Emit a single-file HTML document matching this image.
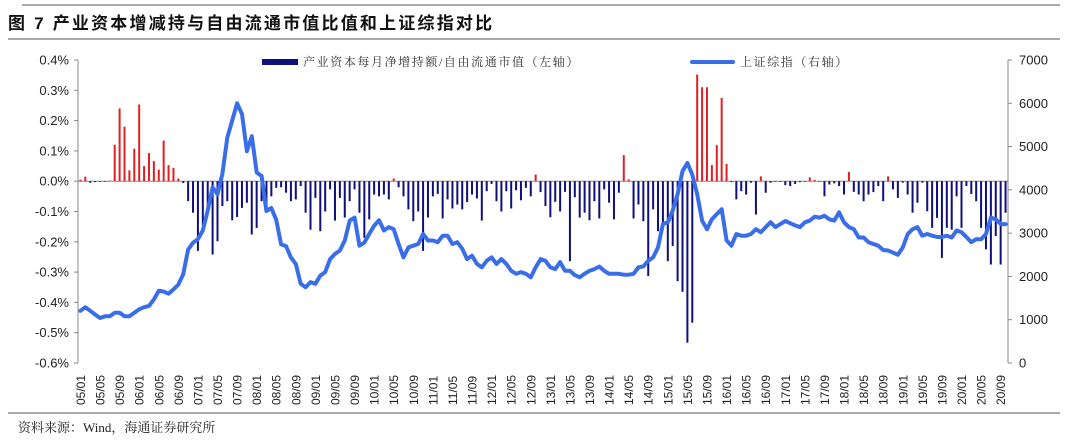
<!DOCTYPE html>
<html><head><meta charset="utf-8">
<style>
body{margin:0;background:#fff;width:1080px;height:444px;overflow:hidden;font-family:"Liberation Sans","Noto Sans CJK SC",sans-serif;}
svg{display:block}
</style></head>
<body>
<svg id="chart" width="1080" height="444">
<line x1="22" y1="5" x2="1060" y2="5" stroke="#555" stroke-width="1"/>
<text x="8" y="29" font-size="17" font-weight="bold" fill="#111" letter-spacing="2.2" font-family="'Liberation Sans','Noto Sans CJK SC',sans-serif">图 7  产业资本增减持与自由流通市值比值和上证综指对比</text>
<line x1="8" y1="39" x2="1060" y2="39" stroke="#555" stroke-width="1"/>
<line x1="8" y1="413" x2="1060" y2="413" stroke="#555" stroke-width="1"/>
<text x="18" y="432" font-size="13" fill="#222" font-family="'Liberation Serif','Noto Serif CJK SC',serif">资料来源：Wind，海通证券研究所</text>
<g id="axes"></g>
<g id="bars"></g>
<g id="line"></g>
<g id="legend">
<rect x="262" y="59" width="36" height="6" fill="#10107a"/>
<text x="303" y="66" font-size="12" fill="#333" letter-spacing="1.6" font-family="'Liberation Serif','Noto Serif CJK SC',serif">产业资本每月净增持额/自由流通市值（左轴）</text>
<line x1="692" y1="62" x2="733" y2="62" stroke="#3a6ee8" stroke-width="4" stroke-linecap="round"/>
<text x="740" y="66" font-size="12" fill="#333" letter-spacing="1.6" font-family="'Liberation Serif','Noto Serif CJK SC',serif">上证综指（右轴）</text>
</g>
</svg>
<script>
const ratioValues=[0.005,0.015,-0.005,-0.003,-0.002,0,0.002,0.12,0.24,0.18,0.036,0.107,0.253,0.05,0.093,0.066,0.038,0.134,0.053,0.044,0.009,-0.006,-0.066,-0.104,-0.23,-0.146,-0.088,-0.242,-0.198,-0.082,-0.066,-0.129,-0.118,
-0.088,-0.071,-0.176,-0.154,-0.066,-0.099,-0.05,-0.022,-0.02,-0.038,-0.066,-0.06,-0.016,-0.104,-0.16,-0.055,-0.165,-0.1,-0.027,-0.13,-0.055,-0.12,-0.066,-0.027,-0.104,-0.187,-0.126,-0.044,-0.05,-0.044,-0.06,0.009,-0.02,-0.05,
-0.093,-0.132,-0.1,-0.23,-0.12,-0.05,-0.042,-0.123,-0.06,-0.09,-0.077,-0.093,-0.069,-0.044,-0.057,-0.13,-0.033,-0.009,-0.066,-0.1,-0.033,-0.09,-0.03,-0.063,-0.022,-0.05,0.022,-0.036,-0.082,-0.119,-0.068,-0.1,-0.035,-0.264,
-0.053,-0.12,-0.104,-0.129,-0.066,-0.123,-0.027,-0.071,-0.126,-0.038,0.086,0.006,-0.123,-0.077,-0.132,-0.313,-0.093,-0.165,-0.137,-0.264,-0.214,-0.33,-0.365,-0.533,-0.467,0.352,0.31,0.31,0.053,0.119,0.275,0.057,-0.003,
-0.06,-0.033,-0.044,-0.005,-0.11,0.016,-0.038,-0.005,0,-0.002,-0.013,-0.016,-0.009,-0.003,0,0.013,0.004,0,-0.05,-0.011,-0.007,-0.016,-0.044,0.031,-0.035,-0.044,-0.066,-0.044,-0.036,-0.016,-0.066,0.016,
-0.027,-0.055,-0.005,-0.044,-0.104,-0.071,-0.005,-0.099,-0.154,-0.121,-0.253,-0.154,-0.16,-0.05,-0.154,-0.016,-0.042,-0.066,-0.154,-0.225,-0.275,-0.181,-0.275,-0.104];
const indexValues=[1205,1290,1205,1120,1040,1080,1080,1160,1160,1080,1080,1160,1240,1290,1320,1470,1670,1650,1600,1700,1810,2050,2620,2780,2860,3060,3520,4060,3900,4370,5210,5600,6000,
5750,4890,5240,4400,4320,3510,3580,3310,2740,2700,2440,2290,1830,1750,1870,1830,2020,2100,2400,2520,2600,2830,3290,3360,2710,2780,2980,3170,3300,3060,3140,3090,2750,2440,
2670,2710,2750,2980,2830,2830,2790,2940,2940,2750,2790,2640,2400,2480,2290,2210,2360,2440,2290,2400,2290,2130,2060,2100,2060,1980,2210,2400,2360,2210,2170,2330,2130,2130,
2030,1980,2060,2130,2170,2230,2130,2060,2060,2060,2040,2040,2060,2210,2230,2360,2440,2670,3210,3250,3520,3900,4430,4620,4350,3900,3290,3090,3320,3440,3550,2830,2710,
2980,2940,2940,2980,3090,3020,3140,3250,3140,3210,3280,3230,3180,3140,3250,3290,3380,3360,3400,3320,3290,3480,3250,3140,3090,2900,2900,2790,2750,2710,2610,2600,
2550,2500,2670,2980,3090,3140,2940,2980,2940,2910,2910,2940,2900,3060,3020,2910,2790,2860,2860,2980,3360,3320,3210,3210];
const leftTicks=["-0.6%","-0.5%","-0.4%","-0.3%","-0.2%","-0.1%","0.0%","0.1%","0.2%","0.3%","0.4%"];
const leftTickValues=[-0.6,-0.5,-0.4,-0.3,-0.2,-0.1,0,0.1,0.2,0.3,0.4];
const rightTickValues=[0,1000,2000,3000,4000,5000,6000,7000];

const NS="http://www.w3.org/2000/svg";
const X0=78,X1=1008,YT=60,YB=363;
const N=ratioValues.length;
const step=(X1-X0)/N;
function xPos(i){return X0+(i+0.5)*step;}
function yLeft(v){return YB-(v+0.6)/1.0*(YB-YT);}
function yRight(v){return YB-v/7000*(YB-YT);}
function mk(tag,attrs,parent){const e=document.createElementNS(NS,tag);for(const k in attrs)e.setAttribute(k,attrs[k]);parent.appendChild(e);return e;}
function monthLabel(i){const y=5+Math.floor(i/12),m=i%12+1;return String(y).padStart(2,'0')+'/'+String(m).padStart(2,'0');}

const axes=document.getElementById('axes');
let a=mk('line',{x1:X0,y1:YT,x2:X0,y2:YB,stroke:'#888'},axes);


a=mk('line',{x1:X1,y1:YT,x2:X1,y2:YB,stroke:'#888'},axes);


leftTickValues.forEach((v,k)=>{
  const y=yLeft(v);
  mk('line',{x1:X0-4,y1:y,x2:X0,y2:y,stroke:'#888'},axes);
  const t=mk('text',{x:X0-9,y:y+4.5,'font-size':13,'text-anchor':'end',fill:'#222'},axes);
  t.textContent=leftTicks[k];
  
  
});
rightTickValues.forEach(v=>{
  const y=yRight(v);
  mk('line',{x1:X1,y1:y,x2:X1+4,y2:y,stroke:'#888'},axes);
  const t=mk('text',{x:X1+11,y:y+4.5,'font-size':13,fill:'#222'},axes);
  t.textContent=String(v);
  
  
});
const z=mk('line',{x1:X0,y1:yLeft(0),x2:X1,y2:yLeft(0),stroke:'#888'},axes);


for(let i=0;i<N;i+=4){
  const x=xPos(i);
  const t=mk('text',{x:0,y:0,'font-size':12,fill:'#222',transform:`translate(${x+4.5},405) rotate(-90)`},axes);
  t.textContent=monthLabel(i);
  
  
}

const bars=document.getElementById('bars');
ratioValues.forEach((v,i)=>{
  const y0=yLeft(0),y1=yLeft(v);
  const r=mk('rect',{x:xPos(i)-1,y:Math.min(y0,y1),width:2,height:Math.max(0.5,Math.abs(y1-y0)),fill:v>0?'#e02020':'#10107a'},bars);
  
  
});

const lg=document.getElementById('line');
const d=indexValues.map((v,i)=>(i?'L':'M')+xPos(i).toFixed(1)+','+yRight(v).toFixed(1)).join(' ');
const p=mk('path',{d:d,fill:'none',stroke:'#3a6ee8','stroke-width':4,'stroke-linejoin':'round','stroke-linecap':'round'},lg);


</script>
</body></html>
